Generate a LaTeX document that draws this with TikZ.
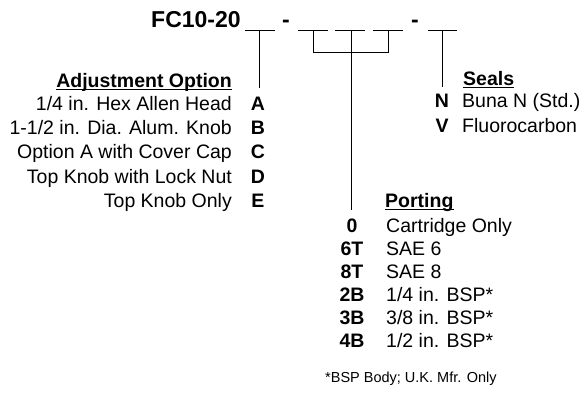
\documentclass[tikz,border=0pt]{standalone}
\usepackage{fontspec}
\setmainfont{Liberation Sans}
\begin{document}
\begin{tikzpicture}[x=1pt,y=-1pt,
  txt/.style={inner sep=0pt,font=\fontsize{19.5}{22}\selectfont},
  code/.style={inner sep=0pt,font=\fontsize{19.5}{22}\selectfont\bfseries,anchor=base},
  head/.style={inner sep=0pt,font=\fontsize{19.5}{22}\selectfont\bfseries},
  title/.style={inner sep=0pt,font=\fontsize{23}{26}\selectfont\bfseries},
  foot/.style={inner sep=0pt,font=\fontsize{14.5}{17}\selectfont},
  ln/.style={line width=1pt,line cap=butt}]
\useasboundingbox (0,0) rectangle (586,392);
% title
\node[title,anchor=base west] (ttl) at (151,27) {FC10-20};
\node[title,anchor=base] (d1) at (286,27) {-};
\node[title,anchor=base] (d2) at (415,27) {-};
% blanks
\coordinate (b1l) at (245,30); \coordinate (b1r) at (275,30);
\coordinate (b2l) at (298,30); \coordinate (b2r) at (328,30);
\coordinate (b3l) at (335,30); \coordinate (b3r) at (365,30);
\coordinate (b4l) at (373,30); \coordinate (b4r) at (403,30);
\coordinate (b5l) at (428,30); \coordinate (b5r) at (457,30);
\foreach \i in {1,...,5} {\draw[ln] (b\i l) -- (b\i r);}
% connector coordinates
\coordinate (v1t) at (259,30); \coordinate (v1b) at (259,88);
\coordinate (v5t) at (442,30); \coordinate (v5b) at (442,87);
\coordinate (v2t) at (313,30); \coordinate (v2b) at (313,52);
\coordinate (v3t) at (351,30); \coordinate (v3m) at (351,52); \coordinate (v3b) at (351,210);
\coordinate (v4t) at (388,30); \coordinate (v4b) at (388,52);
\draw[ln] (v1t) -- (v1b);
\draw[ln] (v5t) -- (v5b);
\draw[ln] (v2t) -- (v2b) -- (v4b) -- (v4t);
\draw[ln] (v3t) -- (v3b);
% Adjustment option
\node[head,anchor=base east] (adjh) at (232,87) {Adjustment Option};
\draw[line width=0.9pt] ([yshift=-2.5pt]adjh.base west) -- ([yshift=-2.5pt]adjh.base east);
\node[txt,anchor=base east] (a1) at (232,110.5) {1/4 in. Hex Allen Head};
\node[txt,anchor=base east] (a2) at (232,134.7) {1-1/2 in. Dia. Alum. Knob};
\node[txt,anchor=base east] (a3) at (232,158.9) {Option A with Cover Cap};
\node[txt,anchor=base east] (a4) at (232,183.1) {Top Knob with Lock Nut};
\node[txt,anchor=base east] (a5) at (232,207.3) {Top Knob Only};
\node[code] (ca) at (258,110.5) {A};
\node[code] (cb) at (258,134.7) {B};
\node[code] (cc) at (258,158.9) {C};
\node[code] (cd) at (258,183.1) {D};
\node[code] (ce) at (258,207.3) {E};
% Seals
\node[head,anchor=base west] (sh) at (463,85) {Seals};
\draw[line width=0.9pt] ([yshift=-2.5pt]sh.base west) -- ([yshift=-2.5pt]sh.base east);
\node[code] (sn) at (442,107) {N};
\node[code] (sv) at (442,132) {V};
\node[txt,anchor=base west] (snt) at (462,107) {Buna N (Std.)};
\node[txt,anchor=base west] (svt) at (462,132) {Fluorocarbon};
% Porting
\node[head,anchor=base west] (ph) at (385,207) {Porting};
\draw[line width=0.9pt] ([yshift=-2.5pt]ph.base west) -- ([yshift=-2.5pt]ph.base east);
\node[code] (p1) at (352,232) {0};
\node[code] (p2) at (352,255) {6T};
\node[code] (p3) at (352,278) {8T};
\node[code] (p4) at (352,301) {2B};
\node[code] (p5) at (352,324) {3B};
\node[code] (p6) at (352,347) {4B};
\node[txt,anchor=base west] (p1t) at (386,232) {Cartridge Only};
\node[txt,anchor=base west] (p2t) at (386,255) {SAE 6};
\node[txt,anchor=base west] (p3t) at (386,278) {SAE 8};
\node[txt,anchor=base west] (p4t) at (386,301) {1/4 in. BSP*};
\node[txt,anchor=base west] (p5t) at (386,324) {3/8 in. BSP*};
\node[txt,anchor=base west] (p6t) at (386,347) {1/2 in. BSP*};
\node[foot,anchor=base west] (fn) at (325,382) {*BSP Body; U.K. Mfr. Only};
\end{tikzpicture}
\end{document}
